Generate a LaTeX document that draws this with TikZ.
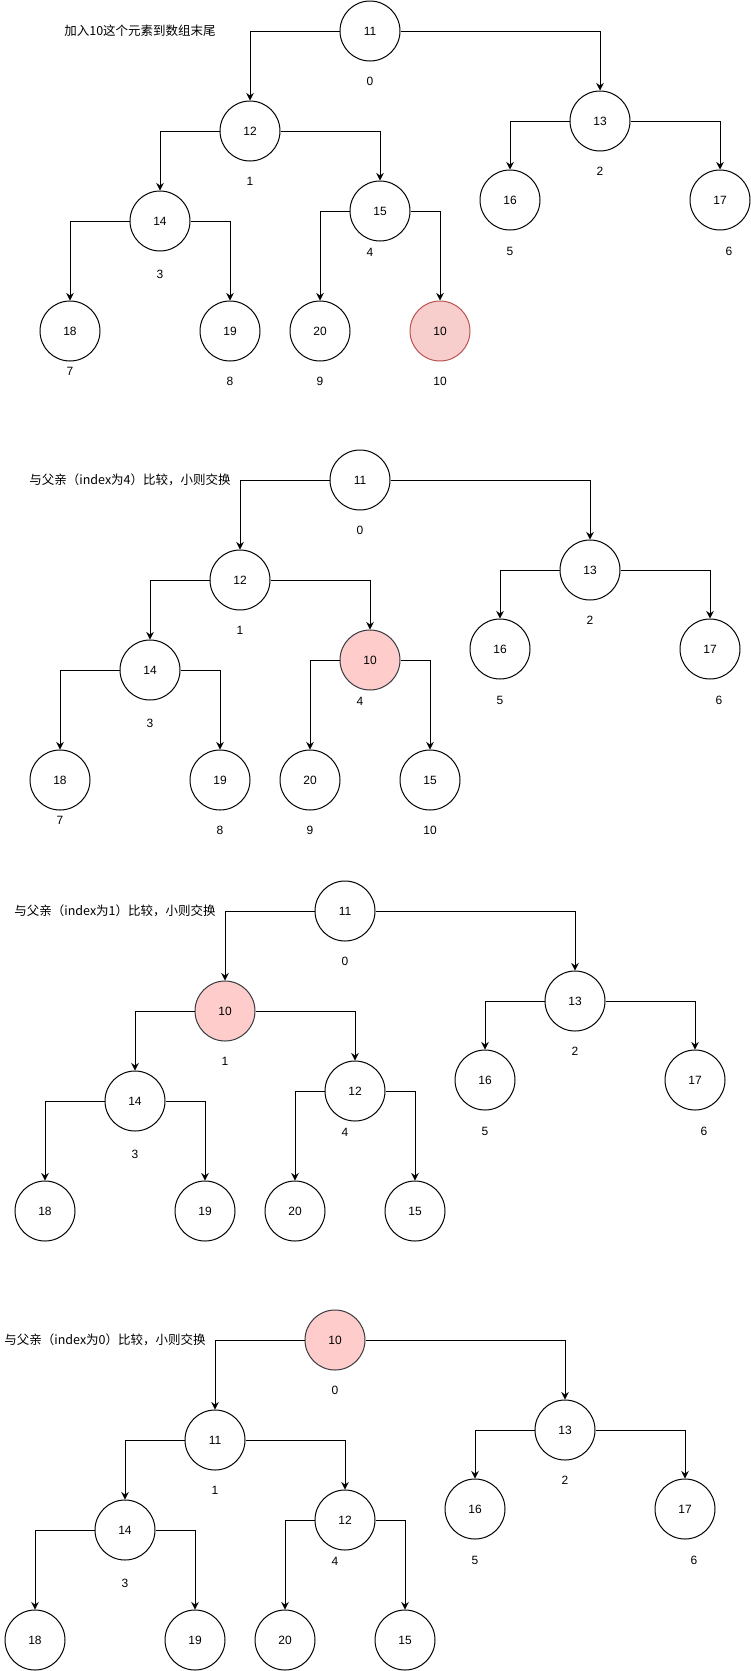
\documentclass[tikz,border=0pt]{standalone}
\usepackage{fontspec}
\setmainfont{Liberation Sans}
\newfontfamily\cjk{Noto Sans CJK SC}
\usetikzlibrary{arrows.meta}
\definecolor{newfill}{HTML}{F8CECC}
\definecolor{newline}{HTML}{B85450}
\definecolor{swapfill}{HTML}{FFCCCC}
\definecolor{swapline}{HTML}{36393D}
\begin{document}
\begin{tikzpicture}[x=1pt,y=-1pt,>={Stealth[length=7.5pt,width=7.5pt,inset=2.5pt]},line width=1pt,font=\fontsize{12}{14}\selectfont]
	\tikzset{heap/.style={draw,circle,minimum size=60pt,inner sep=0pt},
		newkey/.style={heap,fill=newfill,draw=newline},
		swapkey/.style={heap,fill=swapfill,draw=swapline},
		idx/.style={inner sep=0pt},
		note/.style={inner sep=0pt,font=\cjk\fontsize{12.5}{15}\selectfont}}
	\useasboundingbox (0,0) rectangle (751,1671);
	
	% --- Bước 1: thêm 10 vào cuối mảng ---
	\begin{scope}[shift={(370,31)}]
		\node[note] (t1) at (-230,0) {加入10这个元素到数组末尾};
		\node[heap] (a0) at (0,0) {11};
		\node[heap] (a1) at (-120,100) {12};
		\node[heap] (a2) at (230,90) {13};
		\node[heap] (a3) at (-210,190) {14};
		\node[heap] (a4) at (10,180) {15};
		\node[heap] (a5) at (140,169) {16};
		\node[heap] (a6) at (350,169) {17};
		\node[heap] (a7) at (-300,300) {18};
		\node[heap] (a8) at (-140,300) {19};
		\node[heap] (a9) at (-50,300) {20};
		\node[newkey] (a10) at (70,300) {10};
		\draw[->] (a0) -| (a1);
		\draw[->] (a0) -| (a2);
		\draw[->] (a1) -| (a3);
		\draw[->] (a1) -| (a4);
		\draw[->] (a2) -| (a5);
		\draw[->] (a2) -| (a6);
		\draw[->] (a3) -| (a7);
		\draw[->] (a3) -| (a8);
		\draw[->] (a4) -| (a9);
		\draw[->] (a4) -| (a10);
		\node[idx] (ai0) at (0,50) {0};
		\node[idx] (ai1) at (-120,150) {1};
		\node[idx] (ai2) at (230,140) {2};
		\node[idx] (ai3) at (-210,243) {3};
		\node[idx] (ai4) at (0,221) {4};
		\node[idx] (ai5) at (140,220) {5};
		\node[idx] (ai6) at (359,220) {6};
		\node[idx] (ai7) at (-300,340) {7};
		\node[idx] (ai8) at (-140,350) {8};
		\node[idx] (ai9) at (-50,350) {9};
		\node[idx] (ai10) at (70,350) {10};
	\end{scope}
	
	% --- Bước 2: so với cha (index 4) ---
	\begin{scope}[shift={(360,480)}]
		\node[note] (t2) at (-230,0) {与父亲（index为4）比较，小则交换};
		\node[heap] (b0) at (0,0) {11};
		\node[heap] (b1) at (-120,100) {12};
		\node[heap] (b2) at (230,90) {13};
		\node[heap] (b3) at (-210,190) {14};
		\node[swapkey] (b4) at (10,180) {10};
		\node[heap] (b5) at (140,169) {16};
		\node[heap] (b6) at (350,169) {17};
		\node[heap] (b7) at (-300,300) {18};
		\node[heap] (b8) at (-140,300) {19};
		\node[heap] (b9) at (-50,300) {20};
		\node[heap] (b10) at (70,300) {15};
		\draw[->] (b0) -| (b1);
		\draw[->] (b0) -| (b2);
		\draw[->] (b1) -| (b3);
		\draw[->] (b1) -| (b4);
		\draw[->] (b2) -| (b5);
		\draw[->] (b2) -| (b6);
		\draw[->] (b3) -| (b7);
		\draw[->] (b3) -| (b8);
		\draw[->] (b4) -| (b9);
		\draw[->] (b4) -| (b10);
		\node[idx] (bi0) at (0,50) {0};
		\node[idx] (bi1) at (-120,150) {1};
		\node[idx] (bi2) at (230,140) {2};
		\node[idx] (bi3) at (-210,243) {3};
		\node[idx] (bi4) at (0,221) {4};
		\node[idx] (bi5) at (140,220) {5};
		\node[idx] (bi6) at (359,220) {6};
		\node[idx] (bi7) at (-300,340) {7};
		\node[idx] (bi8) at (-140,350) {8};
		\node[idx] (bi9) at (-50,350) {9};
		\node[idx] (bi10) at (70,350) {10};
	\end{scope}
	
	% --- Bước 3: so với cha (index 1) ---
	\begin{scope}[shift={(345,911)}]
		\node[note] (t3) at (-230,0) {与父亲（index为1）比较，小则交换};
		\node[heap] (c0) at (0,0) {11};
		\node[swapkey] (c1) at (-120,100) {10};
		\node[heap] (c2) at (230,90) {13};
		\node[heap] (c3) at (-210,190) {14};
		\node[heap] (c4) at (10,180) {12};
		\node[heap] (c5) at (140,169) {16};
		\node[heap] (c6) at (350,169) {17};
		\node[heap] (c7) at (-300,300) {18};
		\node[heap] (c8) at (-140,300) {19};
		\node[heap] (c9) at (-50,300) {20};
		\node[heap] (c10) at (70,300) {15};
		\draw[->] (c0) -| (c1);
		\draw[->] (c0) -| (c2);
		\draw[->] (c1) -| (c3);
		\draw[->] (c1) -| (c4);
		\draw[->] (c2) -| (c5);
		\draw[->] (c2) -| (c6);
		\draw[->] (c3) -| (c7);
		\draw[->] (c3) -| (c8);
		\draw[->] (c4) -| (c9);
		\draw[->] (c4) -| (c10);
		\node[idx] (ci0) at (0,50) {0};
		\node[idx] (ci1) at (-120,150) {1};
		\node[idx] (ci2) at (230,140) {2};
		\node[idx] (ci3) at (-210,243) {3};
		\node[idx] (ci4) at (0,221) {4};
		\node[idx] (ci5) at (140,220) {5};
		\node[idx] (ci6) at (359,220) {6};
	\end{scope}
	
	% --- Bước 4: so với cha (index 0) ---
	\begin{scope}[shift={(335,1340)}]
		\node[note] (t4) at (-230,0) {与父亲（index为0）比较，小则交换};
		\node[swapkey] (d0) at (0,0) {10};
		\node[heap] (d1) at (-120,100) {11};
		\node[heap] (d2) at (230,90) {13};
		\node[heap] (d3) at (-210,190) {14};
		\node[heap] (d4) at (10,180) {12};
		\node[heap] (d5) at (140,169) {16};
		\node[heap] (d6) at (350,169) {17};
		\node[heap] (d7) at (-300,300) {18};
		\node[heap] (d8) at (-140,300) {19};
		\node[heap] (d9) at (-50,300) {20};
		\node[heap] (d10) at (70,300) {15};
		\draw[->] (d0) -| (d1);
		\draw[->] (d0) -| (d2);
		\draw[->] (d1) -| (d3);
		\draw[->] (d1) -| (d4);
		\draw[->] (d2) -| (d5);
		\draw[->] (d2) -| (d6);
		\draw[->] (d3) -| (d7);
		\draw[->] (d3) -| (d8);
		\draw[->] (d4) -| (d9);
		\draw[->] (d4) -| (d10);
		\node[idx] (di0) at (0,50) {0};
		\node[idx] (di1) at (-120,150) {1};
		\node[idx] (di2) at (230,140) {2};
		\node[idx] (di3) at (-210,243) {3};
		\node[idx] (di4) at (0,221) {4};
		\node[idx] (di5) at (140,220) {5};
		\node[idx] (di6) at (359,220) {6};
	\end{scope}
\end{tikzpicture}
\end{document}
